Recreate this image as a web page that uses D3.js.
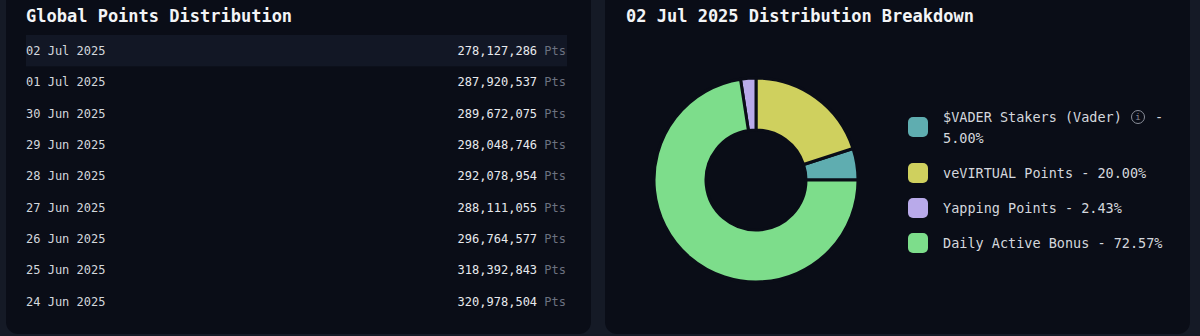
<!DOCTYPE html>
<html><head><meta charset="utf-8">
<script src="https://cdn.jsdelivr.net/npm/d3@7"></script>
<style>
html,body{margin:0;padding:0;background:#151a26;}
svg{display:block;}
</style></head>
<body>
<svg id="c" width="1200" height="336"></svg>
<script>
const dates = ["02 Jul 2025","01 Jul 2025","30 Jun 2025","29 Jun 2025","28 Jun 2025","27 Jun 2025","26 Jun 2025","25 Jun 2025","24 Jun 2025"];
const totals = [278127286,287920537,289672075,298048746,292078954,288111055,296764577,318392843,320978504];
const breakdownLabels = ["$VADER Stakers (Vader)","veVIRTUAL Points","Yapping Points","Daily Active Bonus"];
const breakdownValues = [5.00,20.00,2.43,72.57];
const breakdownColors = ["#5fadb0","#cfd05e","#b9aaea","#7ddd8b"];
const pieOrder = ["veVIRTUAL Points","$VADER Stakers (Vader)","Daily Active Bonus","Yapping Points"];

const FONT = "'DejaVu Sans Mono', 'Liberation Mono', monospace";
const CARD = "#0a0d17";
const svg = d3.select("#c");

// cards
svg.append("rect").attr("x",6).attr("y",-20).attr("width",585).attr("height",354).attr("rx",12).attr("fill",CARD);
svg.append("rect").attr("x",605).attr("y",-20).attr("width",585).attr("height",354).attr("rx",12).attr("fill",CARD);

// left: table
const L = svg.append("g");
L.append("text").attr("x",26).attr("y",22).attr("font-family",FONT).attr("font-weight","bold")
  .attr("font-size",17).attr("fill","#f3f4f6").text("Global Points Distribution");

const y = d3.scaleBand().domain(dates).range([35, 35 + 31.35*dates.length]).paddingInner(0);
const fmt = d3.format(",");
const rows = L.selectAll("g.row").data(dates.map((d,i)=>({date:d,total:totals[i],i}))).join("g").attr("class","row")
  .attr("transform",d=>`translate(0,${y(d.date)})`);
rows.filter(d=>d.i===0).append("rect").attr("x",26).attr("y",0).attr("width",541).attr("height",y.bandwidth()).attr("fill","#121725");
rows.append("text").attr("x",26).attr("y",y.bandwidth()/2).attr("dy","0.35em")
  .attr("font-family",FONT).attr("font-size",12).attr("fill","#d4d7dd").text(d=>d.date);
const vt = rows.append("text").attr("x",566).attr("y",y.bandwidth()/2).attr("dy","0.35em").attr("text-anchor","end")
  .attr("font-family",FONT).attr("font-size",12).attr("fill","#e8eaee");
vt.append("tspan").text(d=>fmt(d.total)+" ");
vt.append("tspan").attr("fill","#6b7180").text("Pts");

// right: donut
const R = svg.append("g");
R.append("text").attr("x",626).attr("y",22).attr("font-family",FONT).attr("font-weight","bold")
  .attr("font-size",17).attr("fill","#f3f4f6").text("02 Jul 2025 Distribution Breakdown");

const items = breakdownLabels.map((l,i)=>({label:l,value:breakdownValues[i],color:breakdownColors[i]}));
const pie = d3.pie().value(d=>d.value).sort((a,b)=>pieOrder.indexOf(a.label)-pieOrder.indexOf(b.label));
const arc = d3.arc().innerRadius(50).outerRadius(102);
const dg = R.append("g").attr("transform","translate(756,180)");
dg.selectAll("path").data(pie(items)).join("path").attr("d",arc).attr("fill",d=>d.data.color)
  .attr("stroke",CARD).attr("stroke-width",3).attr("stroke-linejoin","miter");

// legend
const legY = [127,173,208,243];
const lg = R.selectAll("g.leg").data(items).join("g").attr("class","leg");
lg.append("rect").attr("x",908).attr("y",(d,i)=>legY[i]-10).attr("width",20).attr("height",20).attr("rx",5)
  .attr("fill",d=>d.color);
lg.each(function(d,i){
  const g = d3.select(this);
  const pct = d.value.toFixed(2)+"%";
  if(i===0){
    g.append("text").attr("x",943).attr("y",117).attr("dy","0.35em").attr("font-family",FONT).attr("font-size",13.5)
      .attr("fill","#d4d7dd").text(d.label);
    g.append("circle").attr("cx",1138).attr("cy",117).attr("r",6.5).attr("fill","none").attr("stroke","#8a8f9a").attr("stroke-width",1);
    g.append("text").attr("x",1138).attr("y",117).attr("dy","0.35em").attr("text-anchor","middle").attr("font-family",FONT)
      .attr("font-size",9).attr("fill","#8a8f9a").text("i");
    g.append("text").attr("x",1155).attr("y",117).attr("dy","0.35em").attr("font-family",FONT).attr("font-size",13.5)
      .attr("fill","#d4d7dd").text("-");
    g.append("text").attr("x",943).attr("y",138).attr("dy","0.35em").attr("font-family",FONT).attr("font-size",13.5)
      .attr("fill","#d4d7dd").text(pct);
  } else {
    g.append("text").attr("x",943).attr("y",legY[i]).attr("dy","0.35em").attr("font-family",FONT).attr("font-size",13.5)
      .attr("fill","#d4d7dd").text(d.label+" - "+pct);
  }
});
</script>
</body></html>
